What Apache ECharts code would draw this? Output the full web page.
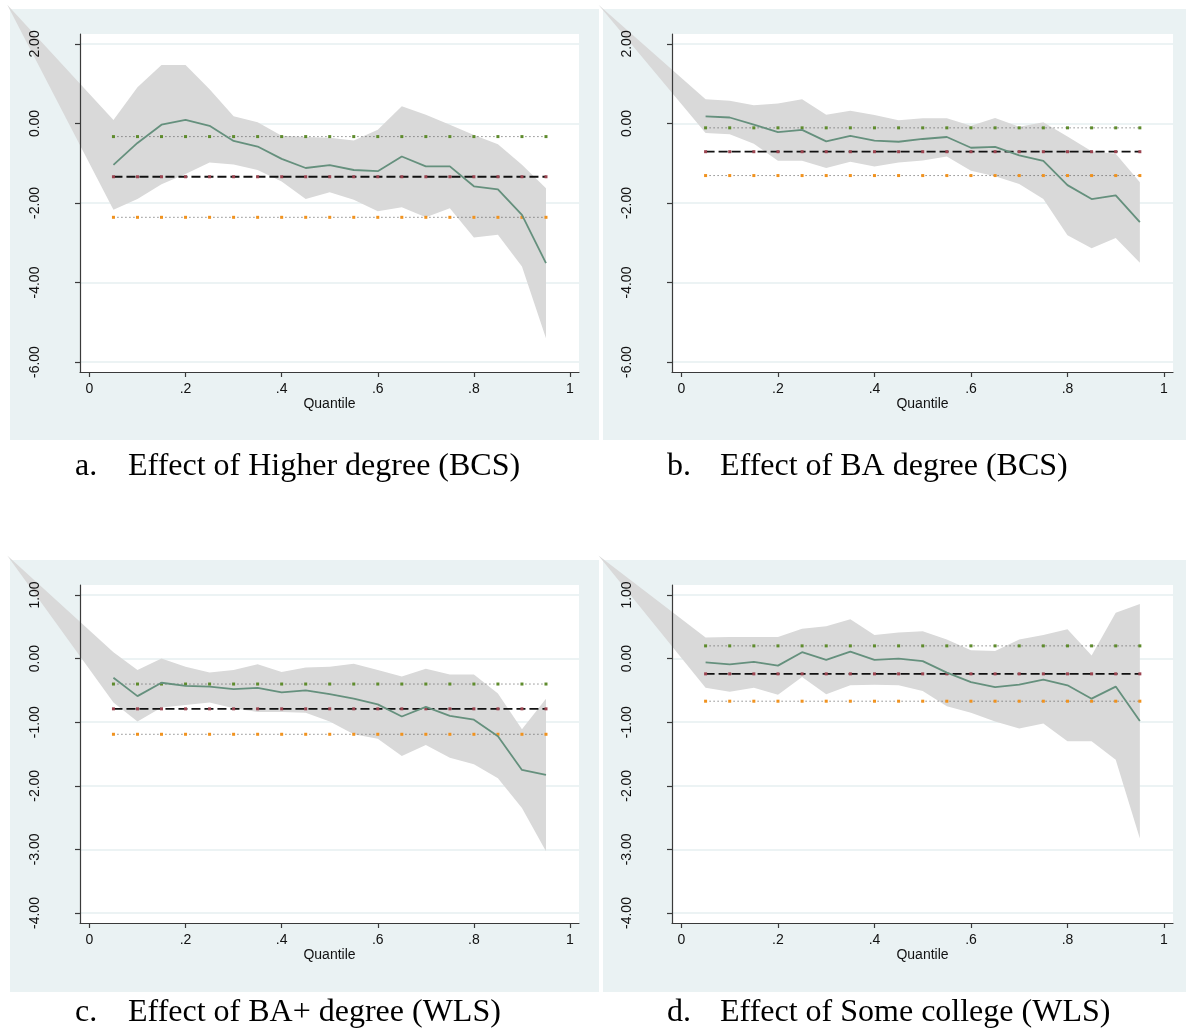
<!DOCTYPE html>
<html>
<head>
<meta charset="utf-8">
<script src="https://cdn.jsdelivr.net/npm/echarts@6/dist/echarts.min.js"></script>
<style>
html,body{margin:0;padding:0;background:#ffffff;}
#chart{width:1186px;height:1035px;}
</style>
</head>
<body>
<div id="chart"></div>
<script>
// ---------- DATA ----------
const quantiles = [0.05,0.10,0.15,0.20,0.25,0.30,0.35,0.40,0.45,0.50,0.55,0.60,0.65,0.70,0.75,0.80,0.85,0.90,0.95];

// Panel a: Higher degree (BCS)
const estA = [-1.04,-0.49,-0.03,0.09,-0.06,-0.44,-0.58,-0.89,-1.12,-1.05,-1.17,-1.20,-0.83,-1.08,-1.08,-1.58,-1.66,-2.30,-3.51];
const upA  = [0.09,0.91,1.47,1.47,0.86,0.18,0.03,-0.31,-0.34,-0.36,-0.43,-0.16,0.43,0.22,-0.03,-0.29,-0.52,-1.04,-1.63];
const loA  = [-2.17,-1.90,-1.53,-1.27,-0.98,-1.03,-1.17,-1.46,-1.90,-1.73,-1.92,-2.21,-2.11,-2.36,-2.13,-2.87,-2.80,-3.60,-5.40];
const olsA = [-0.33,-1.34,-2.36];      // OLS upper CI, coefficient, lower CI
const anchorA = [-0.171, 2.985];       // first vertex of the shaded band

// Panel b: BA degree (BCS)
const estB = [0.18,0.15,-0.03,-0.22,-0.16,-0.45,-0.31,-0.43,-0.46,-0.39,-0.34,-0.61,-0.59,-0.80,-0.94,-1.55,-1.90,-1.81,-2.48];
const upB  = [0.61,0.57,0.46,0.50,0.61,0.22,0.32,0.21,0.08,0.13,0.13,-0.06,0.14,-0.08,0.03,-0.33,-0.70,-0.76,-1.48];
const loB  = [-0.24,-0.27,-0.51,-0.94,-0.94,-1.12,-0.96,-1.08,-0.98,-0.93,-0.83,-1.19,-1.33,-1.52,-1.90,-2.81,-3.14,-2.88,-3.50];
const olsB = [-0.11,-0.71,-1.31];
const anchorB = [-0.172, 2.985];

// Panel c: BA+ degree (WLS)
const estC = [-0.30,-0.59,-0.38,-0.43,-0.44,-0.48,-0.46,-0.53,-0.50,-0.56,-0.63,-0.72,-0.91,-0.76,-0.90,-0.96,-1.22,-1.75,-1.83];
const upC  = [0.10,-0.18,0.00,-0.13,-0.22,-0.18,-0.09,-0.21,-0.14,-0.13,-0.08,-0.18,-0.28,-0.16,-0.25,-0.25,-0.55,-1.11,-0.63];
const loC  = [-0.69,-0.99,-0.77,-0.73,-0.69,-0.78,-0.84,-0.84,-0.85,-0.99,-1.19,-1.26,-1.53,-1.36,-1.56,-1.66,-1.88,-2.35,-3.03];
const olsC = [-0.40,-0.79,-1.19];
const anchorC = [-0.171, 1.62];

// Panel d: Some college (WLS)
const estD = [-0.06,-0.09,-0.05,-0.11,0.10,-0.02,0.11,-0.02,0.00,-0.04,-0.22,-0.37,-0.45,-0.41,-0.33,-0.42,-0.63,-0.44,-0.98];
const upD  = [0.33,0.34,0.34,0.34,0.47,0.51,0.62,0.37,0.41,0.43,0.30,0.13,0.12,0.30,0.37,0.46,0.05,0.72,0.86];
const loD  = [-0.46,-0.52,-0.46,-0.57,-0.29,-0.56,-0.42,-0.41,-0.42,-0.51,-0.75,-0.85,-0.99,-1.10,-1.02,-1.30,-1.30,-1.59,-2.83];
const olsD = [0.20,-0.24,-0.67];
const anchorD = [-0.172, 1.62];

// Axes
const xTicks = [0,0.2,0.4,0.6,0.8,1];
const xRange = [-0.0196, 1.0187];
const yTicksTop = [-6,-4,-2,0,2];
const yRangeTop = [-6.25, 2.25];
const yTicksBottom = [-4,-3,-2,-1,0,1];
const yRangeBottom = [-4.157, 1.157];
const xName = 'Quantile';

const captions = [
  ['a.', 'Effect of Higher degree (BCS)'],
  ['b.', 'Effect of BA degree (BCS)'],
  ['c.', 'Effect of BA+ degree (WLS)'],
  ['d.', 'Effect of Some college (WLS)']
];

// ---------- LAYOUT / STYLE ----------
const panels = [
  {est:estA, up:upA, lo:loA, ols:olsA, anchor:anchorA, yt:yTicksTop,    yr:yRangeTop,    grid:{left:80,  top:34,  width:499, height:338}, bg:[10,9,589,431],   cap:[75,128,467]},
  {est:estB, up:upB, lo:loB, ols:olsB, anchor:anchorB, yt:yTicksTop,    yr:yRangeTop,    grid:{left:672, top:34,  width:501, height:338}, bg:[603,9,583,431],  cap:[667,720,467]},
  {est:estC, up:upC, lo:loC, ols:olsC, anchor:anchorC, yt:yTicksBottom, yr:yRangeBottom, grid:{left:80,  top:585, width:499, height:338}, bg:[10,560,589,432], cap:[75,128,1013]},
  {est:estD, up:upD, lo:loD, ols:olsD, anchor:anchorD, yt:yTicksBottom, yr:yRangeBottom, grid:{left:672, top:585, width:501, height:338}, bg:[603,560,583,432],cap:[667,720,1013]}
];

const AXIS_COLOR = '#3a3a3a';
const GRID_LINE = '#e6eff1';
const BAND = '#d9d9d9';
const EST = '#65907d';
const MK_UP = '#5e8b2c', MK_MID = '#9c4450', MK_LO = '#f0921e';
const FONT = '"Liberation Sans", Arial, sans-serif';
const CAP_FONT = '32px "Liberation Serif", "Times New Roman", serif';

const grids = [], xAxes = [], yAxes = [], series = [], graphics = [];

function fmtX(v){
  const r = Math.round(v*10)/10;
  if (r === 0) return '0';
  if (r === 1) return '1';
  return String(r).replace(/^0\./, '.');
}

panels.forEach((p, i) => {
  graphics.push({type:'rect', z:-10, silent:true, shape:{x:p.bg[0], y:p.bg[1], width:p.bg[2], height:p.bg[3]}, style:{fill:'#eaf2f3'}});
  grids.push(Object.assign({show:true, backgroundColor:'#ffffff', borderWidth:0, containLabel:false, z:0}, p.grid));
  xAxes.push({
    type:'value', gridIndex:i, min:xRange[0], max:xRange[1], z:5,
    name:xName, nameLocation:'middle', nameGap:25,
    nameTextStyle:{fontFamily:FONT, fontSize:14, color:'#111'},
    axisLine:{show:true, onZero:false, lineStyle:{color:AXIS_COLOR, width:1.2}},
    axisTick:{show:true, length:5, customValues:xTicks, lineStyle:{color:AXIS_COLOR, width:1.2}},
    axisLabel:{customValues:xTicks, formatter:fmtX, margin:10, fontFamily:FONT, fontSize:14, color:'#111'},
    splitLine:{show:false}
  });
  yAxes.push({
    type:'value', gridIndex:i, position:'left', min:p.yr[0], max:p.yr[1], z:5,
    axisLine:{show:true, onZero:false, lineStyle:{color:AXIS_COLOR, width:1.2}},
    axisTick:{show:true, length:5, customValues:p.yt, lineStyle:{color:AXIS_COLOR, width:1.2}},
    axisLabel:{customValues:p.yt, rotate:90, margin:38, formatter:v => v.toFixed(2), fontFamily:FONT, fontSize:14, color:'#111'},
    splitLine:{show:false}
  });
  yAxes.push({
    type:'value', gridIndex:i, position:'left', min:p.yr[0], max:p.yr[1], z:0,
    axisLine:{show:false}, axisLabel:{show:false},
    axisTick:{show:false, customValues:p.yt},
    splitLine:{show:true, lineStyle:{color:GRID_LINE, width:1.5}}
  });
  const yi = 2*i;
  series.push({
    type:'custom', xAxisIndex:i, yAxisIndex:yi, clip:false, silent:true, z:1,
    data:[[quantiles[0], p.up[0]]],
    renderItem:(params, api) => {
      const pts = [api.coord(p.anchor)];
      quantiles.forEach((q, k) => pts.push(api.coord([q, p.up[k]])));
      for (let k = quantiles.length - 1; k >= 0; k--) pts.push(api.coord([quantiles[k], p.lo[k]]));
      return {type:'polygon', shape:{points:pts}, style:{fill:BAND, stroke:null}};
    }
  });
  const olsDefs = [
    {v:p.ols[0], type:[1,3], color:'#555555', width:1, mk:MK_UP},
    {v:p.ols[1], type:[9,4], color:'#111111', width:1.8, mk:MK_MID},
    {v:p.ols[2], type:[1,3], color:'#555555', width:1, mk:MK_LO}
  ];
  olsDefs.forEach(d => {
    series.push({
      type:'line', xAxisIndex:i, yAxisIndex:yi, z:3, silent:true, animation:false,
      data:quantiles.map(q => [q, d.v]),
      symbol:'rect', symbolSize:3, itemStyle:{color:d.mk},
      lineStyle:{type:d.type, color:d.color, width:d.width}
    });
  });
  series.push({
    type:'line', xAxisIndex:i, yAxisIndex:yi, z:4, silent:true, animation:false,
    data:quantiles.map((q, k) => [q, p.est[k]]),
    showSymbol:false, symbol:'none',
    lineStyle:{color:EST, width:1.8}
  });
  graphics.push({type:'text', z:10, x:p.cap[0], y:p.cap[2], style:{text:captions[i][0], font:CAP_FONT, fill:'#000', textVerticalAlign:'middle'}});
  graphics.push({type:'text', z:10, x:p.cap[1], y:p.cap[2], style:{text:captions[i][1], font:CAP_FONT, fill:'#000', textVerticalAlign:'middle'}});
});

const chart = echarts.init(document.getElementById('chart'), null, {renderer:'canvas'});
chart.setOption({
  animation:false,
  backgroundColor:'#ffffff',
  grid:grids, xAxis:xAxes, yAxis:yAxes, series:series,
  graphic:{elements:graphics}
});
</script>
</body>
</html>
